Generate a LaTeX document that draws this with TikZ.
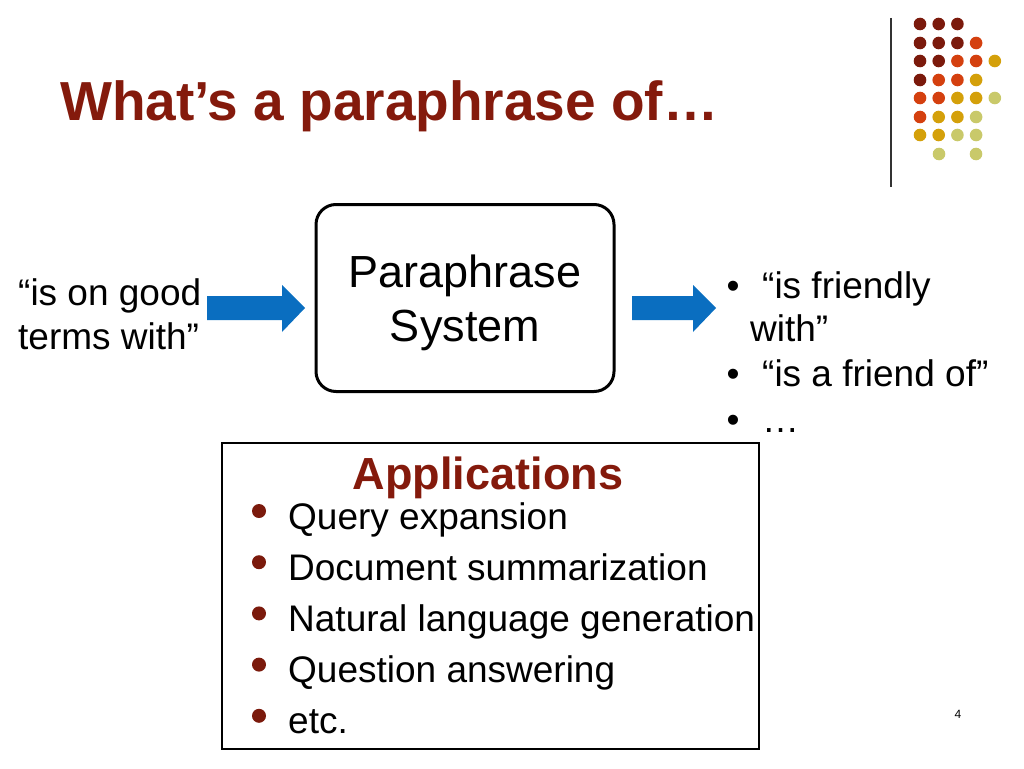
\documentclass[tikz,border=0pt]{standalone}
\usepackage{fontspec}
\setmainfont{Liberation Sans}
\definecolor{dr}{HTML}{7B1A0C}
\definecolor{og}{HTML}{D4400F}
\definecolor{gd}{HTML}{D4A00A}
\definecolor{lg}{HTML}{C9C96A}
\definecolor{ttl}{HTML}{841A0C}
\definecolor{arr}{HTML}{0A6EC0}
\begin{document}
\begin{tikzpicture}[x=1pt,y=-1pt,
  body/.style={font=\fontsize{37}{44}\selectfont,align=left,inner sep=0pt}]
\useasboundingbox (0,0) rectangle (1024,768);
\draw[line width=1.2pt,black!80] (891,18) -- (891,187);
\foreach \r/\row in {24/{dr,dr,dr},43/{dr,dr,dr,og},61/{dr,dr,og,og,gd},80/{dr,og,og,gd},98/{og,og,gd,gd,lg},117/{og,gd,gd,lg},135/{gd,gd,lg,lg}}{
  \foreach \c [count=\i] in \row { \fill[\c] ({920+18.7*(\i-1)},\r) circle (6.3pt); } }
\fill[lg] (939,154) circle (6.3pt); \fill[lg] (976,154) circle (6.3pt);
\node[anchor=west,text=ttl,font=\fontsize{55}{60}\selectfont\bfseries,inner sep=0pt] (title) at (60,106) {What’s a paraphrase of…};
\node[draw,line width=3pt,rounded corners=20pt,minimum width=298pt,minimum height=187pt] (sys) at (465,298) {};
\node[font=\fontsize{45}{54}\selectfont,align=center,inner sep=0pt] (syst) at (465,303) {Paraphrase\\System};
\node[body,anchor=west] (in) at (18,314) {“is on good\\terms with”};
\fill[arr] (207,296) -- (282,296) -- (282,285) -- (305,308) -- (282,332) -- (282,320) -- (207,320) -- cycle;
\fill[arr] (632,296) -- (693,296) -- (693,285) -- (716,308) -- (693,332) -- (693,320) -- (632,320) -- cycle;
\foreach \y/\t in {298/{“is friendly},386/{“is a friend of”},432/{…}}{
  \node[body,anchor=base west] at (762,\y) {\t};
  \node[body,anchor=base] at (733,\y) {•};}
\node[body,anchor=base west] (out2) at (750,341) {with”};
\node[draw,line width=2pt,minimum width=537pt,minimum height=306pt] (app) at (490,596) {};
\node[text=ttl,font=\fontsize{45}{54}\selectfont\bfseries,inner sep=0pt] (apt) at (488,478) {Applications};
\foreach \t [count=\i] in {Query expansion,Document summarization,Natural language generation,Question answering,etc.}{
  \node[body,anchor=base west] (it\i) at (288,{529+51.2*(\i-1)}) {\t};
  \fill[dr] (259,{511+51.2*(\i-1)}) circle (7pt);
}
\node[font=\fontsize{12}{14}\selectfont] (pg) at (958,714) {4};
\end{tikzpicture}
\end{document}
